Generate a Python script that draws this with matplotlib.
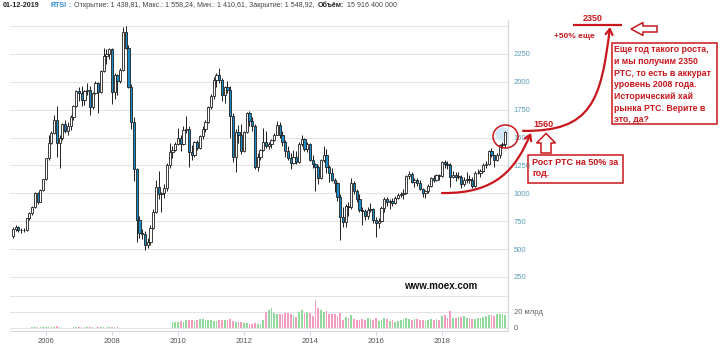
import numpy as np
import matplotlib
matplotlib.use("Agg")
import matplotlib.pyplot as plt
from matplotlib.patches import Rectangle, Polygon, Ellipse, FancyArrowPatch
from matplotlib.path import Path

plt.rcParams['font.family'] = ['Liberation Sans', 'DejaVu Sans']

# RTSI, monthly candles Jan 2005 .. Dec 2019 (one row per year)
opens = [
    614, 680, 700, 670, 675, 672, 776, 820, 881, 1000, 925, 1030,
    1125, 1315, 1450, 1540, 1660, 1450, 1500, 1620, 1555, 1600, 1680, 1780,
    1920, 1900, 1840, 1920, 1930, 1770, 1900, 1990, 1910, 2100, 2230, 2250,
    2290, 1910, 2060, 2010, 2106, 2446, 2303, 1953, 1640, 1215, 760, 644,
    632, 540, 560, 690, 830, 1060, 990, 1000, 1050, 1250, 1370, 1390,
    1445, 1500, 1440, 1570, 1575, 1370, 1340, 1460, 1410, 1510, 1580, 1640,
    1770, 1870, 2016, 2060, 2016, 1880, 1950, 1930, 1690, 1330, 1550, 1523,
    1380, 1550, 1717, 1650, 1600, 1240, 1330, 1390, 1460, 1425, 1440, 1480,
    1527, 1612, 1525, 1460, 1380, 1320, 1270, 1330, 1280, 1440, 1490, 1400,
    1443, 1300, 1260, 1240, 1140, 1300, 1345, 1240, 1180, 1120, 1090, 970,
    790, 745, 890, 880, 1090, 1020, 950, 850, 840, 800, 850, 860,
    757, 735, 750, 870, 945, 920, 930, 910, 960, 985, 995, 1000,
    1152, 1170, 1100, 1115, 1090, 1040, 1000, 1020, 1070, 1140, 1120, 1160,
    1154, 1280, 1260, 1250, 1150, 1160, 1145, 1150, 1080, 1120, 1130, 1120,
    1068, 1180, 1180, 1200, 1250, 1260, 1380, 1340, 1300, 1340, 1430, 1438.81,
]
highs = [
    700, 716, 710, 690, 690, 780, 830, 890, 1010, 1010, 1040, 1130,
    1320, 1520, 1560, 1700, 1780, 1520, 1630, 1660, 1640, 1700, 1790, 1930,
    1950, 1960, 1930, 1990, 1960, 1910, 2010, 2000, 2110, 2300, 2290, 2300,
    2300, 2080, 2070, 2120, 2490, 2498, 2330, 1980, 1680, 1230, 800, 680,
    660, 600, 720, 860, 1120, 1200, 1010, 1080, 1270, 1450, 1420, 1460,
    1590, 1520, 1600, 1690, 1600, 1430, 1470, 1480, 1520, 1600, 1660, 1780,
    1890, 2040, 2080, 2123, 2030, 1960, 2010, 1960, 1720, 1580, 1610, 1620,
    1560, 1730, 1740, 1680, 1620, 1360, 1400, 1590, 1560, 1460, 1490, 1540,
    1650, 1640, 1560, 1480, 1420, 1360, 1390, 1380, 1460, 1520, 1500, 1460,
    1450, 1340, 1270, 1250, 1310, 1420, 1400, 1250, 1230, 1140, 1100, 990,
    880, 900, 920, 1140, 1110, 1040, 990, 880, 860, 880, 910, 870,
    790, 780, 890, 970, 970, 950, 960, 980, 1000, 1010, 1040, 1160,
    1200, 1190, 1140, 1140, 1120, 1050, 1030, 1080, 1150, 1160, 1170, 1170,
    1290, 1300, 1290, 1270, 1200, 1190, 1190, 1160, 1150, 1190, 1160, 1150,
    1200, 1220, 1220, 1270, 1290, 1390, 1410, 1340, 1360, 1440, 1460, 1558.24,
]
lows = [
    600, 660, 655, 640, 650, 665, 760, 810, 870, 900, 920, 1020,
    1120, 1300, 1440, 1530, 1330, 1225, 1480, 1540, 1520, 1570, 1660, 1770,
    1830, 1780, 1790, 1880, 1700, 1760, 1890, 1720, 1900, 2090, 2160, 2200,
    1800, 1850, 1880, 1990, 2100, 2290, 1940, 1580, 1110, 560, 600, 590,
    492, 510, 540, 680, 820, 950, 830, 960, 1020, 1230, 1320, 1380,
    1430, 1380, 1430, 1540, 1240, 1300, 1330, 1390, 1400, 1490, 1550, 1630,
    1760, 1850, 1950, 1990, 1830, 1810, 1900, 1500, 1280, 1190, 1450, 1350,
    1370, 1540, 1600, 1560, 1220, 1200, 1300, 1380, 1410, 1400, 1410, 1470,
    1520, 1500, 1420, 1330, 1300, 1220, 1260, 1260, 1270, 1420, 1380, 1370,
    1290, 1230, 1020, 1080, 1130, 1280, 1180, 1100, 1110, 1010, 930, 578,
    700, 700, 800, 860, 990, 920, 830, 720, 760, 770, 830, 730,
    607, 690, 740, 830, 890, 860, 890, 900, 950, 970, 950, 990,
    1130, 1090, 1060, 1070, 1030, 970, 960, 1000, 1060, 1100, 1110, 1120,
    1150, 1230, 1220, 1060, 1140, 1110, 1130, 1050, 1070, 1090, 1090, 1050,
    1060, 1170, 1150, 1190, 1230, 1250, 1330, 1240, 1290, 1320, 1410, 1410.61,
]
closes = [
    680, 700, 670, 675, 672, 776, 820, 881, 1000, 925, 1030, 1125,
    1315, 1450, 1540, 1660, 1450, 1500, 1620, 1555, 1600, 1680, 1780, 1920,
    1900, 1840, 1920, 1930, 1770, 1900, 1990, 1910, 2100, 2230, 2250, 2290,
    1910, 2060, 2010, 2106, 2446, 2303, 1953, 1640, 1215, 760, 644, 632,
    540, 560, 690, 830, 1060, 990, 1000, 1050, 1250, 1370, 1390, 1445,
    1500, 1440, 1570, 1575, 1370, 1340, 1460, 1410, 1510, 1580, 1640, 1770,
    1870, 2016, 2060, 2016, 1880, 1950, 1930, 1690, 1330, 1550, 1523, 1380,
    1550, 1717, 1650, 1600, 1240, 1330, 1390, 1460, 1425, 1440, 1480, 1527,
    1612, 1525, 1460, 1380, 1320, 1270, 1330, 1280, 1440, 1490, 1400, 1443,
    1300, 1260, 1240, 1140, 1300, 1345, 1240, 1180, 1120, 1090, 970, 790,
    745, 890, 880, 1090, 1020, 950, 850, 840, 800, 850, 860, 757,
    735, 750, 870, 945, 920, 930, 910, 960, 985, 995, 1000, 1152,
    1170, 1100, 1115, 1090, 1040, 1000, 1020, 1070, 1140, 1120, 1160, 1154,
    1280, 1260, 1250, 1150, 1160, 1150, 1155, 1080, 1120, 1130, 1120, 1068,
    1180, 1182, 1200, 1250, 1260, 1380, 1340, 1300, 1340, 1430, 1440, 1548.92,
]
# traded volume, bln RUB
volumes = [
    0, 0, 0, 0, 0, 0, 0, 1.0, 1.2, 1.5, 0.8, 1.0,
    1.4, 1.8, 1.0, 1.2, 2.2, 1.0, 0, 0, 0, 0.6, 0.8, 1.0,
    1.0, 0.8, 1.2, 0.9, 1.3, 1.0, 0.6, 1.1, 0.8, 1.0, 1.2, 0.9,
    1.3, 1.0, 0.8, 0, 0, 0, 0, 0, 0, 0, 0, 0,
    0, 0, 0, 0, 0, 0, 0, 0, 0, 0, 7.5, 7.0,
    7.0, 8.5, 8.0, 10.0, 10.5, 10.0, 9.0, 10.0, 11.0, 11.5, 10.5, 9.5,
    10.0, 9.0, 8.5, 9.5, 10.0, 9.5, 10.0, 11.0, 9.0, 8.0, 7.0, 7.5,
    6.5, 6.0, 5.5, 5.0, 6.5, 5.0, 4.5, 9.5, 20.5, 22.5, 25.0, 19.0,
    17.5, 17.0, 17.5, 18.5, 19.0, 18.0, 16.5, 14.0, 20.0, 22.5, 19.0, 19.5,
    18.5, 15.0, 35.0, 25.0, 22.0, 20.0, 21.5, 17.5, 18.0, 18.0, 15.0, 18.5,
    10.5, 14.0, 12.5, 16.0, 11.0, 10.0, 9.5, 11.0, 10.0, 12.0, 11.0, 9.5,
    12.0, 9.0, 10.5, 12.5, 11.0, 9.0, 9.5, 8.0, 8.5, 9.5, 11.0, 12.5,
    11.0, 10.5, 11.5, 11.0, 9.5, 10.5, 9.0, 10.0, 11.5, 10.5, 11.5, 9.5,
    14.5, 16.0, 13.0, 21.5, 13.0, 12.5, 13.5, 14.0, 15.0, 12.0, 12.5, 11.0,
    11.5, 12.0, 12.5, 13.5, 15.0, 16.0, 16.0, 15.0, 17.0, 17.0, 17.5, 15.9164,
]
year_labels = ['2006', '2008', '2010', '2012', '2014', '2016', '2018']
price_ticks = [250, 500, 750, 1000, 1250, 1500, 1750, 2000, 2250, 2500]
forecast_level = 1560
target_level = 2350

o = np.array(opens); h = np.array(highs); l = np.array(lows); c = np.array(closes)
v = np.array(volumes)
x = np.arange(len(c))
up = c >= o

RED = '#c8171c'
W, H = 720, 344


def rect(x0, y0, x1, y1):
    return [x0 / W, 1 - y1 / H, (x1 - x0) / W, (y1 - y0) / H]


fig = plt.figure(figsize=(7.2, 3.44), dpi=100)
ax = fig.add_axes(rect(10, 20, 508, 288))
axv = fig.add_axes(rect(10, 288, 508, 331), sharex=ax)

# candles
ax.add_patch(Ellipse((178, 1530), width=5.2, height=125, color='#d3e9f7', zorder=1, lw=0))
ax.vlines(x, l, h, color='#1e1e1e', lw=0.7, zorder=2)
ax.bar(x, c - o, bottom=o, width=0.8, color=np.where(up, 'white', '#1a8bc6'),
       edgecolor='#1e1e1e', linewidth=0.6, zorder=3)
ax.set_xlim(-1.05, 180)
ax.set_ylim(151, 2554)
ax.set_yticks(price_ticks)
ax.set_yticklabels([str(t) if t < 2500 else '' for t in price_ticks])
ax.yaxis.tick_right()
ax.tick_params(axis='y', length=0, pad=4, labelsize=5.5, labelcolor='#5a9fb8')
ax.tick_params(axis='x', bottom=False, labelbottom=False)
ax.grid(axis='y', color='#e4e4e4', lw=0.8)
ax.set_axisbelow(True)
for s in ('top', 'left', 'bottom'):
    ax.spines[s].set_visible(False)
ax.spines['right'].set_color('#cfd8e0')
ax.spines['right'].set_linewidth(0.8)

# volume
axv.bar(x, v, width=0.6, color=np.where(up, '#8fda9b', '#f39cc0'), lw=0, zorder=2)
axv.set_ylim(-3.75, 50)
axv.set_yticks([0, 20, 40])
axv.set_yticklabels(['0', '20 млрд', ''])
axv.yaxis.tick_right()
axv.tick_params(axis='y', length=0, pad=4, labelsize=5.5, labelcolor='#666666')
axv.grid(axis='y', color='#e4e4e4', lw=0.8)
axv.set_axisbelow(True)
axv.set_xticks(np.arange(12, 180, 24))
axv.set_xticklabels(year_labels)
axv.tick_params(axis='x', length=3, width=0.7, color='#cfd8e0', labelsize=5.5,
                labelcolor='#555555', pad=2)
for s in ('top', 'left'):
    axv.spines[s].set_visible(False)
for s in ('right', 'bottom'):
    axv.spines[s].set_color('#cfd8e0')
    axv.spines[s].set_linewidth(0.8)

# overlay in pixel coordinates for the header and the hand-drawn notes
ov = fig.add_axes([0, 0, 1, 1])
ov.set_xlim(0, W)
ov.set_ylim(H, 0)
ov.axis('off')
ov.patch.set_alpha(0)

# header pieces: text, weight, colour, gap before it (px)
header = [
    ('01-12-2019', 'bold', '#222222', 0),
    ('RTSI', 'bold', '#2b8fd6', 11),
    (':', 'bold', '#2b8fd6', 2),
    ('Открытие: 1 438,81, Макс.: 1 558,24, Мин.: 1 410,61, Закрытие: 1 548,92,',
     'normal', '#444444', 3),
    ('Объём:', 'bold', '#222222', 3),
    ('15 916 400 000', 'normal', '#444444', 3),
]
fig.canvas.draw()
renderer = fig.canvas.get_renderer()
hx = 3
for txt, wt, col, gap in header:
    t = ov.text(hx + gap, 9, txt, fontsize=5.1, weight=wt, color=col,
                ha='left', va='bottom')
    hx = t.get_window_extent(renderer).x1

ov.text(441, 286, 'www.moex.com', fontsize=7, weight='bold', color='#111111',
        ha='center', va='center')

# pixel row of the 1560 level on the price scale
y1560 = H - ax.transData.transform((0, forecast_level))[1]

ov.add_patch(Ellipse((505.5, 136.5), 25, 23, fill=False, edgecolor=RED, lw=1.1))

growth = Path([(442, 193), (497, 194), (516, 168), (531, y1560 + 2)],
              [Path.MOVETO, Path.CURVE4, Path.CURVE4, Path.CURVE4])
ov.add_patch(FancyArrowPatch(path=growth, arrowstyle='->,head_length=4,head_width=2.5',
                             color=RED, lw=1.6, mutation_scale=1))

ahead = Path([(523, y1560), (592, y1560 + 1), (601, 100), (610, 27)],
             [Path.MOVETO, Path.CURVE4, Path.CURVE4, Path.CURVE4])
ov.add_patch(FancyArrowPatch(path=ahead, arrowstyle='->,head_length=4,head_width=2.5',
                             color=RED, lw=1.6, mutation_scale=1))

ov.plot([573, 622], [25, 25], color=RED, lw=1.6, solid_capstyle='butt')
ov.text(593, 23, str(target_level), fontsize=6.5, weight='bold', color=RED,
        ha='center', va='bottom')
ov.text(543, y1560 - 2, str(forecast_level), fontsize=6.5, weight='bold', color=RED,
        ha='center', va='bottom')
ov.text(574, 36.5, '+50% еще', fontsize=6, weight='bold', color=RED,
        ha='center', va='center')

ov.add_patch(Polygon([(631, 29), (643, 22.5), (643, 26), (657, 26), (657, 32),
                      (643, 32), (643, 35.5)], closed=True, facecolor='white',
                     edgecolor=RED, lw=1.1))
ov.add_patch(Polygon([(546, 133.5), (555.5, 143), (551, 143), (551, 153), (541, 153),
                      (541, 143), (536.5, 143)], closed=True, facecolor='white',
                     edgecolor=RED, lw=1.1))

ov.add_patch(Rectangle((528, 155), 95, 28, fill=False, edgecolor=RED, lw=1.1))
ov.text(532, 158, 'Рост РТС на 50% за\nгод.', fontsize=6.5, weight='bold',
        color=RED, ha='left', va='top', linespacing=1.3)

ov.add_patch(Rectangle((612, 43), 105, 81, fill=False, edgecolor=RED, lw=1.1))
ov.text(614, 45.5, 'Еще год такого роста,\nи мы получим 2350\nРТС, то есть в аккурат\n'
        'уровень 2008 года.\nИсторический хай\nрынка РТС. Верите в\nэто, да?',
        fontsize=6.3, weight='bold', color=RED, ha='left', va='top', linespacing=1.38)

fig.savefig('out.png', dpi=100)
